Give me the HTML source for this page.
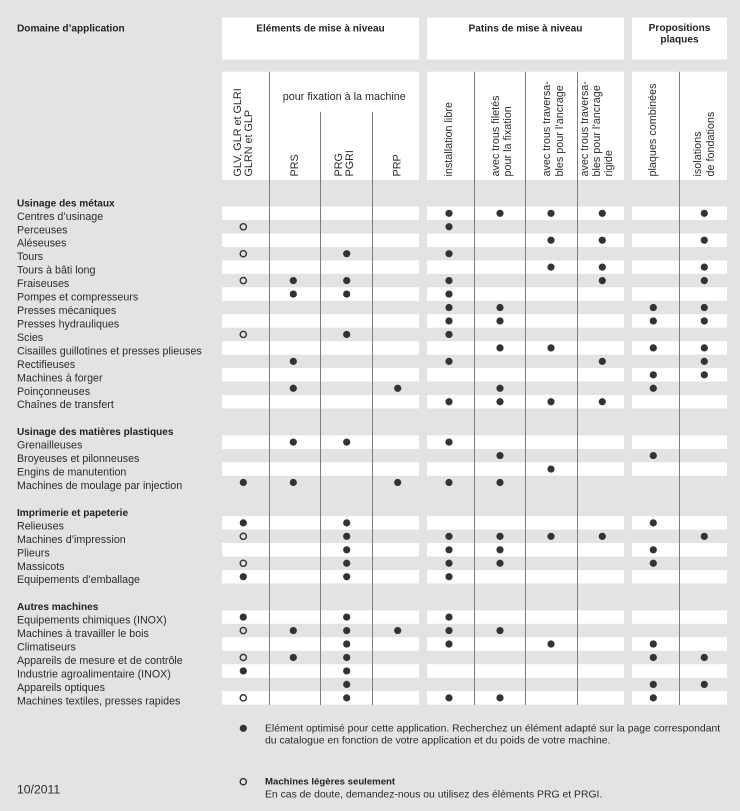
<!DOCTYPE html>
<html><head><meta charset="utf-8">
<style>
html,body{margin:0;padding:0;background:#e2e3e5;}
svg{display:block;}
text{font-family:"Liberation Sans",Arial,sans-serif;fill:#2b2b2b;}
.b{font-weight:bold;font-size:10.1px;fill:#222;}
.r{font-size:10.7px;}
.h{font-size:10.8px;}
.l{font-size:10.4px;}
.lb{font-size:9.6px;font-weight:bold;fill:#222;}
</style></head>
<body>
<svg width="740" height="811" viewBox="0 0 740 811" xmlns="http://www.w3.org/2000/svg">
<defs>
<circle id="d" cx="0" cy="0" r="3.6" fill="#333"/>
<circle id="o" cx="0" cy="0" r="3.1" fill="none" stroke="#333" stroke-width="1.4"/>
<g id="band">
<rect x="222" y="0" width="197" height="13.46" fill="#fff"/>
<rect x="427" y="0" width="197" height="13.46" fill="#fff"/>
<rect x="632" y="0" width="95" height="13.46" fill="#fff"/>
</g>
</defs>
<rect x="0" y="0" width="740" height="811" fill="#e2e3e5"/>

<!-- header boxes -->
<rect x="222" y="17.5" width="197" height="42" fill="#fff"/>
<rect x="427" y="17.5" width="197" height="42" fill="#fff"/>
<rect x="632" y="17.5" width="95" height="42" fill="#fff"/>
<rect x="222" y="71.7" width="197" height="108.3" fill="#fff"/>
<rect x="427" y="71.7" width="197" height="108.3" fill="#fff"/>
<rect x="632" y="71.7" width="95" height="108.3" fill="#fff"/>

<!-- bands -->
<use href="#band" y="206.57"/><use href="#band" y="233.49"/><use href="#band" y="260.41"/><use href="#band" y="287.33"/>
<use href="#band" y="314.25"/><use href="#band" y="341.17"/><use href="#band" y="368.09"/><use href="#band" y="395.01"/>
<use href="#band" y="435.39"/><use href="#band" y="462.31"/>
<use href="#band" y="516.15"/><use href="#band" y="543.07"/><use href="#band" y="569.99"/>
<use href="#band" y="610.37"/><use href="#band" y="637.29"/><use href="#band" y="664.21"/><use href="#band" y="691.13"/>

<!-- vertical lines -->
<g stroke="#7c7c7c" stroke-width="1">
<line x1="269.5" y1="71.7" x2="269.5" y2="705"/>
<line x1="320.5" y1="111.7" x2="320.5" y2="705"/>
<line x1="372.5" y1="111.7" x2="372.5" y2="705"/>
<line x1="474.5" y1="71.7" x2="474.5" y2="705"/>
<line x1="525.5" y1="71.7" x2="525.5" y2="705"/>
<line x1="577.5" y1="71.7" x2="577.5" y2="705"/>
<line x1="679.5" y1="71.7" x2="679.5" y2="705"/>
</g>

<!-- header texts -->
<text class="b" x="17" y="31.7">Domaine d’application</text>
<text class="b" x="320.5" y="31.7" text-anchor="middle">Eléments de mise à niveau</text>
<text class="b" x="525.5" y="31.7" text-anchor="middle">Patins de mise à niveau</text>
<text class="b" x="679.5" y="31" text-anchor="middle">Propositions</text>
<text class="b" x="679.5" y="42.7" text-anchor="middle">plaques</text>
<text class="h" x="344.3" y="99.8" text-anchor="middle">pour fixation à la machine</text>

<!-- rotated headers -->
<g class="h">
<text class="h" transform="translate(241.2,176.5) rotate(-90)">GLV, GLR et GLRI</text>
<text class="h" transform="translate(252.2,176.5) rotate(-90)">GLRN et GLP</text>
<text class="h" transform="translate(297.9,176.5) rotate(-90)">PRS</text>
<text class="h" transform="translate(342.2,176.5) rotate(-90)">PRG</text>
<text class="h" transform="translate(353.2,176.5) rotate(-90)">PGRI</text>
<text class="h" transform="translate(400.6,176.5) rotate(-90)">PRP</text>
<text class="h" transform="translate(452.1,176.5) rotate(-90)">installation libre</text>
<text class="h" transform="translate(498.8,176.5) rotate(-90)">avec trous filetés</text>
<text class="h" transform="translate(511.1,176.5) rotate(-90)">pour la fixation</text>
<text class="h" transform="translate(550.1,176.5) rotate(-90)">avec trous traversa-</text>
<text class="h" transform="translate(562.8,176.5) rotate(-90)">bles pour l’ancrage</text>
<text class="h" transform="translate(587.8,176.5) rotate(-90)">avec trous traversa-</text>
<text class="h" transform="translate(600,176.5) rotate(-90)">bles pour l’ancrage</text>
<text class="h" transform="translate(612.2,176.5) rotate(-90)">rigide</text>
<text class="h" transform="translate(656.1,176.5) rotate(-90)">plaques combinées</text>
<text class="h" transform="translate(701.1,176.5) rotate(-90)">isolations</text>
<text class="h" transform="translate(713.8,176.5) rotate(-90)">de fondations</text>
</g>

<!-- row labels -->
<text class="b" x="17" y="206.3">Usinage des métaux</text>
<text class="r" x="17" y="219.8">Centres d’usinage</text>
<text class="r" x="17" y="233.3">Perceuses</text>
<text class="r" x="17" y="246.7">Aléseuses</text>
<text class="r" x="17" y="260.2">Tours</text>
<text class="r" x="17" y="273.6">Tours à bâti long</text>
<text class="r" x="17" y="287.1">Fraiseuses</text>
<text class="r" x="17" y="300.6">Pompes et compresseurs</text>
<text class="r" x="17" y="314.0">Presses mécaniques</text>
<text class="r" x="17" y="327.5">Presses hydrauliques</text>
<text class="r" x="17" y="340.9">Scies</text>
<text class="r" x="17" y="354.4">Cisailles guillotines et presses plieuses</text>
<text class="r" x="17" y="367.9">Rectifieuses</text>
<text class="r" x="17" y="381.3">Machines à forger</text>
<text class="r" x="17" y="394.8">Poinçonneuses</text>
<text class="r" x="17" y="408.2">Chaînes de transfert</text>

<text class="b" x="17" y="435.2">Usinage des matières plastiques</text>
<text class="r" x="17" y="448.6">Grenailleuses</text>
<text class="r" x="17" y="462.1">Broyeuses et pilonneuses</text>
<text class="r" x="17" y="475.5">Engins de manutention</text>
<text class="r" x="17" y="489.0">Machines de moulage par injection</text>

<text class="b" x="17" y="515.9">Imprimerie et papeterie</text>
<text class="r" x="17" y="529.4">Relieuses</text>
<text class="r" x="17" y="542.8">Machines d’impression</text>
<text class="r" x="17" y="556.3">Plieurs</text>
<text class="r" x="17" y="569.8">Massicots</text>
<text class="r" x="17" y="583.2">Equipements d’emballage</text>

<text class="b" x="17" y="610.1">Autres machines</text>
<text class="r" x="17" y="623.6">Equipements chimiques (INOX)</text>
<text class="r" x="17" y="637.1">Machines à travailler le bois</text>
<text class="r" x="17" y="650.5">Climatiseurs</text>
<text class="r" x="17" y="664.0">Appareils de mesure et de contrôle</text>
<text class="r" x="17" y="677.4">Industrie agroalimentaire (INOX)</text>
<text class="r" x="17" y="690.9">Appareils optiques</text>
<text class="r" x="17" y="704.4">Machines textiles, presses rapides</text>

<!-- dots -->
<!-- row 1 -->
<use href="#d" x="449" y="213.3"/><use href="#d" x="500" y="213.3"/><use href="#d" x="551" y="213.3"/><use href="#d" x="602.3" y="213.3"/><use href="#d" x="704.3" y="213.3"/>
<!-- row 2 -->
<use href="#o" x="243.3" y="226.76"/><use href="#d" x="449" y="226.76"/>
<!-- row 3 -->
<use href="#d" x="551" y="240.22"/><use href="#d" x="602.3" y="240.22"/><use href="#d" x="704.3" y="240.22"/>
<!-- row 4 -->
<use href="#o" x="243.3" y="253.68"/><use href="#d" x="346.7" y="253.68"/><use href="#d" x="449" y="253.68"/>
<!-- row 5 -->
<use href="#d" x="551" y="267.14"/><use href="#d" x="602.3" y="267.14"/><use href="#d" x="704.3" y="267.14"/>
<!-- row 6 -->
<use href="#o" x="243.3" y="280.6"/><use href="#d" x="293.3" y="280.6"/><use href="#d" x="346.7" y="280.6"/><use href="#d" x="449" y="280.6"/><use href="#d" x="602.3" y="280.6"/><use href="#d" x="704.3" y="280.6"/>
<!-- row 7 -->
<use href="#d" x="293.3" y="294.06"/><use href="#d" x="346.7" y="294.06"/><use href="#d" x="449" y="294.06"/>
<!-- row 8 -->
<use href="#d" x="449" y="307.52"/><use href="#d" x="500" y="307.52"/><use href="#d" x="653.3" y="307.52"/><use href="#d" x="704.3" y="307.52"/>
<!-- row 9 -->
<use href="#d" x="449" y="320.98"/><use href="#d" x="500" y="320.98"/><use href="#d" x="653.3" y="320.98"/><use href="#d" x="704.3" y="320.98"/>
<!-- row 10 -->
<use href="#o" x="243.3" y="334.44"/><use href="#d" x="346.7" y="334.44"/><use href="#d" x="449" y="334.44"/>
<!-- row 11 -->
<use href="#d" x="500" y="347.9"/><use href="#d" x="551" y="347.9"/><use href="#d" x="653.3" y="347.9"/><use href="#d" x="704.3" y="347.9"/>
<!-- row 12 -->
<use href="#d" x="293.3" y="361.36"/><use href="#d" x="449" y="361.36"/><use href="#d" x="602.3" y="361.36"/><use href="#d" x="704.3" y="361.36"/>
<!-- row 13 -->
<use href="#d" x="653.3" y="374.82"/><use href="#d" x="704.3" y="374.82"/>
<!-- row 14 -->
<use href="#d" x="293.3" y="388.28"/><use href="#d" x="397.7" y="388.28"/><use href="#d" x="500" y="388.28"/><use href="#d" x="653.3" y="388.28"/>
<!-- row 15 -->
<use href="#d" x="449" y="401.74"/><use href="#d" x="500" y="401.74"/><use href="#d" x="551" y="401.74"/><use href="#d" x="602.3" y="401.74"/>
<!-- row 18 -->
<use href="#d" x="293.3" y="442.12"/><use href="#d" x="346.7" y="442.12"/><use href="#d" x="449" y="442.12"/>
<!-- row 19 -->
<use href="#d" x="500" y="455.58"/><use href="#d" x="653.3" y="455.58"/>
<!-- row 20 -->
<use href="#d" x="551" y="469.04"/>
<!-- row 21 -->
<use href="#d" x="243.3" y="482.5"/><use href="#d" x="293.3" y="482.5"/><use href="#d" x="397.7" y="482.5"/><use href="#d" x="449" y="482.5"/><use href="#d" x="500" y="482.5"/>
<!-- row 24 -->
<use href="#d" x="243.3" y="522.88"/><use href="#d" x="346.7" y="522.88"/><use href="#d" x="653.3" y="522.88"/>
<!-- row 25 -->
<use href="#o" x="243.3" y="536.34"/><use href="#d" x="346.7" y="536.34"/><use href="#d" x="449" y="536.34"/><use href="#d" x="500" y="536.34"/><use href="#d" x="551" y="536.34"/><use href="#d" x="602.3" y="536.34"/><use href="#d" x="704.3" y="536.34"/>
<!-- row 26 -->
<use href="#d" x="346.7" y="549.8"/><use href="#d" x="449" y="549.8"/><use href="#d" x="500" y="549.8"/><use href="#d" x="653.3" y="549.8"/>
<!-- row 27 -->
<use href="#o" x="243.3" y="563.26"/><use href="#d" x="346.7" y="563.26"/><use href="#d" x="449" y="563.26"/><use href="#d" x="500" y="563.26"/><use href="#d" x="653.3" y="563.26"/>
<!-- row 28 -->
<use href="#d" x="243.3" y="576.72"/><use href="#d" x="346.7" y="576.72"/><use href="#d" x="449" y="576.72"/>
<!-- row 31 -->
<use href="#d" x="243.3" y="617.1"/><use href="#d" x="346.7" y="617.1"/><use href="#d" x="449" y="617.1"/>
<!-- row 32 -->
<use href="#o" x="243.3" y="630.56"/><use href="#d" x="293.3" y="630.56"/><use href="#d" x="346.7" y="630.56"/><use href="#d" x="397.7" y="630.56"/><use href="#d" x="449" y="630.56"/><use href="#d" x="500" y="630.56"/>
<!-- row 33 -->
<use href="#d" x="346.7" y="644.02"/><use href="#d" x="449" y="644.02"/><use href="#d" x="551" y="644.02"/><use href="#d" x="653.3" y="644.02"/>
<!-- row 34 -->
<use href="#o" x="243.3" y="657.48"/><use href="#d" x="293.3" y="657.48"/><use href="#d" x="346.7" y="657.48"/><use href="#d" x="653.3" y="657.48"/><use href="#d" x="704.3" y="657.48"/>
<!-- row 35 -->
<use href="#d" x="243.3" y="670.94"/><use href="#d" x="346.7" y="670.94"/>
<!-- row 36 -->
<use href="#d" x="346.7" y="684.4"/><use href="#d" x="653.3" y="684.4"/><use href="#d" x="704.3" y="684.4"/>
<!-- row 37 -->
<use href="#o" x="243.3" y="697.86"/><use href="#d" x="346.7" y="697.86"/><use href="#d" x="449" y="697.86"/><use href="#d" x="500" y="697.86"/><use href="#d" x="653.3" y="697.86"/>

<!-- legend -->
<use href="#d" x="243.3" y="728.3"/>
<text class="l" x="265" y="731.4">Elément optimisé pour cette application. Recherchez un élément adapté sur la page correspondant</text>
<text class="l" x="265" y="743.6">du catalogue en fonction de votre application et du poids de votre machine.</text>
<use href="#o" x="243.3" y="781.7"/>
<text class="lb" x="265" y="784.7">Machines légères seulement</text>
<text class="l" x="265" y="797.7">En cas de doute, demandez-nous ou utilisez des éléments PRG et PRGI.</text>

<text x="17" y="793.5" style="font-size:12.2px;">10/2011</text>
</svg>
</body></html>
